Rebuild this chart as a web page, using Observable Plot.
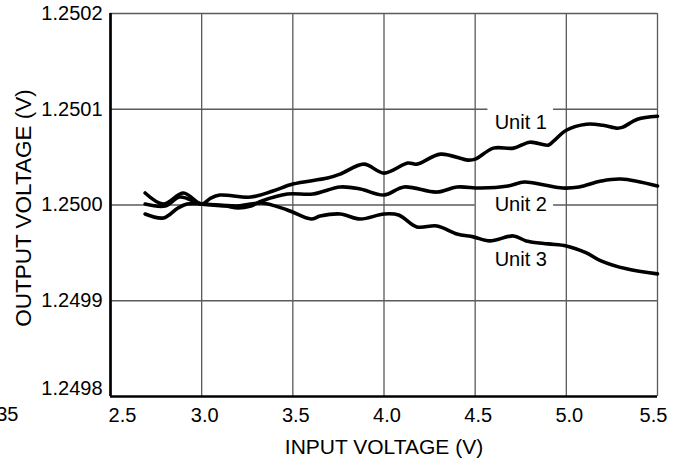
<!DOCTYPE html>
<html>
<head>
<meta charset="utf-8">
<script src="https://cdn.jsdelivr.net/npm/d3@7"></script>
<script src="https://cdn.jsdelivr.net/npm/@observablehq/plot@0.6"></script>
<style>
  html, body { margin: 0; padding: 0; background: #fff; overflow: hidden; }
  #chart svg { display: block; }
</style>
</head>
<body>
<div id="chart"></div>
<script>
// ---- data ----
const unit1Vin  = [2.69, 2.79, 2.90, 3.00, 3.05, 3.10, 3.27, 3.39, 3.50, 3.69, 3.76, 3.89, 4.00, 4.13, 4.18, 4.31, 4.46, 4.50, 4.60, 4.71, 4.80, 4.90, 4.93, 5.00, 5.11, 5.20, 5.28, 5.31, 5.39, 5.50];
const unit1Vout = [1.2500125, 1.2500010, 1.2500125, 1.2500010, 1.2500073, 1.2500104, 1.2500083, 1.2500146, 1.2500219, 1.2500281, 1.2500323, 1.2500427, 1.2500333, 1.2500438, 1.2500427, 1.2500531, 1.2500469, 1.2500479, 1.2500594, 1.2500594, 1.2500656, 1.2500625, 1.2500667, 1.2500781, 1.2500844, 1.2500833, 1.2500802, 1.2500813, 1.2500896, 1.2500927];

const unit2Vin  = [2.69, 2.80, 2.88, 3.00, 3.13, 3.20, 3.27, 3.33, 3.47, 3.61, 3.76, 3.87, 4.00, 4.11, 4.29, 4.40, 4.53, 4.68, 4.77, 4.88, 4.98, 5.07, 5.19, 5.30, 5.50];
const unit2Vout = [1.2500010, 1.2499990, 1.2500083, 1.2500010, 1.2499990, 1.2499969, 1.2499990, 1.2500042, 1.2500115, 1.2500115, 1.2500188, 1.2500167, 1.2500104, 1.2500188, 1.2500135, 1.2500188, 1.2500177, 1.2500198, 1.2500240, 1.2500208, 1.2500177, 1.2500188, 1.2500250, 1.2500271, 1.2500198];

const unit3Vin  = [2.69, 2.79, 2.87, 2.92, 3.00, 3.20, 3.33, 3.47, 3.60, 3.65, 3.76, 3.87, 4.00, 4.08, 4.18, 4.29, 4.40, 4.49, 4.58, 4.71, 4.78, 4.90, 5.00, 5.11, 5.19, 5.33, 5.50];
const unit3Vout = [1.2499906, 1.2499865, 1.2499969, 1.2500010, 1.2500010, 1.2499990, 1.2500021, 1.2499948, 1.2499854, 1.2499885, 1.2499906, 1.2499854, 1.2499906, 1.2499896, 1.2499771, 1.2499781, 1.2499698, 1.2499667, 1.2499625, 1.2499677, 1.2499625, 1.2499594, 1.2499573, 1.2499500, 1.2499417, 1.2499333, 1.2499281];

const unitNames = ["Unit 1", "Unit 2", "Unit 3"];
const unitLabelVin  = [4.75, 4.75, 4.75];
const unitLabelVout = [1.2500865, 1.2500000, 1.2499427];

const xTicks = [2.5, 3.0, 3.5, 4.0, 4.5, 5.0, 5.5];
const yTicks = [1.2498, 1.2499, 1.2500, 1.2501, 1.2502];
const xLabel = "INPUT VOLTAGE (V)";
const yLabel = "OUTPUT VOLTAGE (V)";
const neighbourTick = "35"; // cut-off tick label of the adjacent figure at the far left

// gridline pieces broken around the unit labels
const gridY    = [1.2499, 1.2501, 1.2501, 1.2500, 1.2500, 1.2502];
const gridFrom = [2.5,    2.5,    4.93,   2.5,    4.93,   2.5];
const gridTo   = [5.5,    4.57,   5.5,    4.50,   5.5,    5.5];

// ---- tables built from the arrays ----
const ins = [unit1Vin, unit2Vin, unit3Vin];
const outs = [unit1Vout, unit2Vout, unit3Vout];
const rows = [];
unitNames.forEach((name, k) => ins[k].forEach((v, i) => rows.push({unit: name, vin: v, vout: outs[k][i]})));
const labels = unitNames.map((name, i) => ({name, vin: unitLabelVin[i], vout: unitLabelVout[i]}));
const grid = gridY.map((y, i) => ({y, x1: gridFrom[i], x2: gridTo[i]}));

const FONT = "'Liberation Sans', Arial, Helvetica, sans-serif";
const fmt = d => d.toFixed(4);
const gray = "#5a5a5a";

const chart = Plot.plot({
  width: 682,
  height: 466,
  marginLeft: 110,
  marginRight: 25,
  marginTop: 13,
  marginBottom: 70,
  style: {fontFamily: FONT, fontSize: "20px", color: "#000", background: "#fff"},
  x: {domain: [2.5, 5.5]},
  y: {domain: [1.2498, 1.2502]},
  marks: [
    // grid
    Plot.ruleX(xTicks.slice(1), {stroke: gray, strokeWidth: 1.3}),
    Plot.ruleY(grid, {y: "y", x1: "x1", x2: "x2", stroke: gray, strokeWidth: 1.3}),
    // axes lines
    Plot.ruleX([2.5], {stroke: "#000", strokeWidth: 2.7}),
    Plot.ruleY([1.2498], {stroke: "#000", strokeWidth: 2.7}),
    // tick labels
    Plot.axisX(xTicks.slice(1, 6), {tickSize: 0, tickPadding: 11, tickFormat: d => d.toFixed(1), label: null, fontSize: 20, dx: 3}),
    Plot.axisX([2.5], {tickSize: 0, tickPadding: 11, tickFormat: d => d.toFixed(1), label: null, fontSize: 20, dx: 12}),
    Plot.axisX([5.5], {tickSize: 0, tickPadding: 11, tickFormat: d => d.toFixed(1), label: null, fontSize: 20, dx: -4}),
    Plot.axisY(yTicks.slice(1), {tickSize: 0, tickPadding: 8, tickFormat: fmt, label: null, fontSize: 20}),
    Plot.axisY([1.2498], {tickSize: 0, tickPadding: 8, tickFormat: fmt, label: null, fontSize: 20, dy: -8}),
    // neighbouring figure's cut-off tick label
    Plot.text([neighbourTick], {frameAnchor: "bottom-left", textAnchor: "end", lineAnchor: "top", dx: -92, dy: 10, fontSize: 20, fill: "#000"}),
    // axis titles
    Plot.text([xLabel], {frameAnchor: "bottom", lineAnchor: "middle", dy: 51, fontSize: 21, fill: "#000"}),
    Plot.text([yLabel], {frameAnchor: "left", textAnchor: "middle", lineAnchor: "middle", rotate: -90, dx: -87, dy: 3, fontSize: 22.5, fill: "#000"}),
    // data
    Plot.line(rows, {x: "vin", y: "vout", z: "unit", stroke: "#000", strokeWidth: 3.6, curve: "catmull-rom", strokeLinejoin: "round", strokeLinecap: "round"}),
    Plot.text(labels, {x: "vin", y: "vout", text: "name", fontSize: 20, fill: "#000"})
  ]
});
document.getElementById("chart").appendChild(chart);
</script>
</body>
</html>
